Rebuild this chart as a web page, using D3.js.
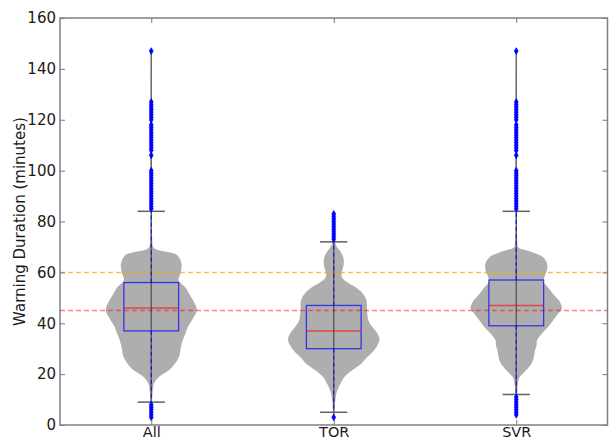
<!DOCTYPE html>
<html>
<head>
<meta charset="utf-8">
<script src="https://cdn.jsdelivr.net/npm/d3@7"></script>
<style>
  html, body { margin: 0; padding: 0; background: #fff; }
  svg { display: block; }
  text { font-family: "DejaVu Sans", sans-serif; fill: #1a1a1a; }
</style>
</head>
<body>
<svg id="chart" width="609" height="442"></svg>
<script>
// ---------- data ----------
const categories = ["All", "TOR", "SVR"];
const yTicks = [0, 20, 40, 60, 80, 100, 120, 140, 160];
const refLines = [60, 45];

// box statistics (minutes)
const q1Vals = [37, 30, 39];
const medianVals = [46, 37, 47];
const q3Vals = [56, 47, 57];
const whiskerLo = [9, 5, 12];
const whiskerHi = [84, 72, 84];
const minVals = [3, 3, 4];
const maxVals = [147, 83, 147];

// outliers
const allOutliers = [3, 4, 5, 6, 7, 8, 85, 86, 87, 88, 89, 90, 91, 92, 93, 94, 95, 96, 97, 98, 99, 100,
  106, 108, 109, 110, 111, 112, 113, 114, 115, 116, 117, 118, 120, 121, 122, 123, 124, 125, 126, 127, 147];
const torOutliers = [3, 73, 74, 75, 76, 77, 78, 79, 80, 81, 82, 83];
const svrOutliers = [4, 5, 6, 7, 8, 9, 10, 11, 85, 86, 87, 88, 89, 90, 91, 92, 93, 94, 95, 96, 97, 98, 99, 100,
  106, 108, 109, 110, 111, 112, 113, 114, 115, 116, 117, 118, 120, 121, 122, 123, 124, 125, 126, 127, 147];

// violin density profiles (value, relative density)
const allKdeY = [3, 8, 12.5, 16.4, 19, 21.6, 24.2, 26.8, 30.8, 34.7, 36, 38.6, 41.9, 45.2, 48.4, 50.4, 53.8, 57, 59.6, 63.5, 66.8, 67.8, 68.9, 70, 73, 85, 147];
const allKdeD = [0.5, 0.8, 1.3, 3, 8, 18, 24, 28, 30, 33, 34.5, 37, 42, 46, 43, 40, 35, 27.5, 29.5, 30.5, 26, 19, 6, 2, 1, 0.7, 0.5];
const torKdeY = [3, 7, 11, 13.5, 16.4, 19, 21.6, 24.2, 26.8, 29.5, 32.5, 34, 36, 38.5, 41, 45, 49, 51.8, 54.4, 56.5, 58.3, 60, 63, 66, 68, 69.5, 71, 74, 83];
const torKdeD = [0.5, 1, 2, 3.5, 7, 11, 19, 28, 34, 41, 45.5, 46, 44, 39, 35, 33.5, 33, 29, 21, 12, 8, 8, 10, 9.5, 7, 4, 2, 1, 0.5];
const svrKdeY = [4, 12, 16, 18.5, 20.3, 22.9, 25.5, 29.5, 31.4, 33.4, 36, 38, 41.3, 43.9, 45.8, 48.4, 51.1, 53.7, 56.3, 58.3, 60.9, 63.5, 66.1, 68.1, 70, 73, 85, 147];
const svrKdeD = [0.5, 1, 1.5, 3, 7, 13, 17, 19, 20.5, 21, 26, 31, 37.5, 42.5, 46, 44, 38, 33, 27.5, 28.5, 31, 31, 26.5, 15, 2, 1, 0.7, 0.5];

const kdeY = [allKdeY, torKdeY, svrKdeY];
const kdeD = [allKdeD, torKdeD, svrKdeD];
const outliers = [allOutliers, torOutliers, svrOutliers];

// ---------- layout ----------
const plot = { left: 60, right: 607.5, top: 18, bottom: 425 };
const svg = d3.select("#chart");

const x = d3.scaleLinear().domain([0.5, 3.5]).range([plot.left, plot.right]);
const y = d3.scaleLinear().domain([0, 160]).range([plot.bottom, plot.top]);
const violinHalf = 0.25;   // x units
const boxHalf = 0.15;
const capHalf = 0.075;

const g = svg.append("g");

// violins
categories.forEach((c, i) => {
  const pos = i + 1;
  const maxD = d3.max(kdeD[i]);
  const w = d3.scaleLinear().domain([0, maxD]).range([0, violinHalf]);
  const pts = kdeY[i].map((v, k) => ({ v, d: kdeD[i][k] }));
  const area = d3.area()
    .y(p => y(p.v))
    .x0(p => x(pos - w(p.d)))
    .x1(p => x(pos + w(p.d)))
    .curve(d3.curveCatmullRom.alpha(0.5));
  g.append("path")
    .attr("d", area(pts))
    .attr("fill", "#808080")
    .attr("fill-opacity", 0.64)
    .attr("stroke", "none");
});

// reference lines
const refColors = ["#ffa500", "#ff0000"];
const refOpac = [0.75, 0.5];
refLines.forEach((v, i) => {
  g.append("line")
    .attr("x1", plot.left).attr("x2", plot.right)
    .attr("y1", y(v)).attr("y2", y(v))
    .attr("stroke", refColors[i])
    .attr("stroke-opacity", refOpac[i])
    .attr("stroke-width", 1.5)
    .attr("stroke-dasharray", "5,3");
});

// extrema bars (min-max)
categories.forEach((c, i) => {
  const pos = i + 1;
  g.append("line")
    .attr("x1", x(pos)).attr("x2", x(pos))
    .attr("y1", y(minVals[i])).attr("y2", y(maxVals[i]))
    .attr("stroke", "#000").attr("stroke-opacity", 0.45)
    .attr("stroke-width", 1.5);
});

// box plots
categories.forEach((c, i) => {
  const pos = i + 1;
  [[q3Vals[i], whiskerHi[i]], [q1Vals[i], whiskerLo[i]]].forEach(([a, b]) => {
    g.append("line")
      .attr("x1", x(pos)).attr("x2", x(pos))
      .attr("y1", y(a)).attr("y2", y(b))
      .attr("stroke", "#0000ff").attr("stroke-opacity", 0.75)
      .attr("stroke-width", 1.2)
      .attr("stroke-dasharray", "4,3");
  });
  [whiskerHi[i], whiskerLo[i]].forEach(v => {
    g.append("line")
      .attr("x1", x(pos - capHalf)).attr("x2", x(pos + capHalf))
      .attr("y1", y(v)).attr("y2", y(v))
      .attr("stroke", "#606060").attr("stroke-width", 1.5);
  });
  g.append("rect")
    .attr("x", x(pos - boxHalf)).attr("width", x(pos + boxHalf) - x(pos - boxHalf))
    .attr("y", y(q3Vals[i])).attr("height", y(q1Vals[i]) - y(q3Vals[i]))
    .attr("fill", "none")
    .attr("stroke", "#0000ff").attr("stroke-opacity", 0.7)
    .attr("stroke-width", 1.3);
  g.append("line")
    .attr("x1", x(pos - boxHalf)).attr("x2", x(pos + boxHalf))
    .attr("y1", y(medianVals[i])).attr("y2", y(medianVals[i]))
    .attr("stroke", "#ff0000").attr("stroke-opacity", 0.6)
    .attr("stroke-width", 1.5);
  g.selectAll(null).data(outliers[i]).enter().append("path")
    .attr("transform", v => `translate(${x(pos)},${y(v)})`)
    .attr("d", d3.symbol().type(d3.symbolDiamond).size(13))
    .attr("fill", "#0000ff")
    .attr("stroke", "#0000ff").attr("stroke-width", 0.7);
});

// axes (ticks inward)
const fontSize = "15px";
const axLeft = svg.append("g").attr("transform", `translate(${plot.left},0)`)
  .call(d3.axisLeft(y).tickValues(yTicks).tickSizeInner(-5).tickSizeOuter(0).tickPadding(4));
const axRight = svg.append("g").attr("transform", `translate(${plot.right},0)`)
  .call(d3.axisRight(y).tickValues(yTicks).tickSizeInner(-5).tickSizeOuter(0).tickFormat(""));
const axBottom = svg.append("g").attr("transform", `translate(0,${plot.bottom})`)
  .call(d3.axisBottom(x).tickValues([1, 2, 3]).tickFormat(d => categories[d - 1])
    .tickSizeInner(-5).tickSizeOuter(0).tickPadding(2));
const axTop = svg.append("g").attr("transform", `translate(0,${plot.top})`)
  .call(d3.axisTop(x).tickValues([1, 2, 3]).tickSizeInner(-5).tickSizeOuter(0).tickFormat(""));

[axLeft, axRight, axBottom, axTop].forEach(ax => {
  ax.select(".domain").remove();
  ax.selectAll(".tick line").attr("stroke", "#777").attr("stroke-width", 1);
  ax.selectAll(".tick text").attr("font-size", fontSize).attr("font-family", "DejaVu Sans").attr("fill", "#1a1a1a");
});
axBottom.selectAll(".tick text").attr("font-size", "14.5px");

// frame
svg.append("rect")
  .attr("x", plot.left).attr("y", plot.top)
  .attr("width", plot.right - plot.left).attr("height", plot.bottom - plot.top)
  .attr("fill", "none").attr("stroke", "#808080").attr("stroke-width", 1.5);

// y label
svg.append("text")
  .attr("transform", `translate(24.5,${(plot.top + plot.bottom) / 2}) rotate(-90)`)
  .attr("text-anchor", "middle")
  .attr("font-size", "15px")
  .text("Warning Duration (minutes)");
</script>
</body>
</html>
